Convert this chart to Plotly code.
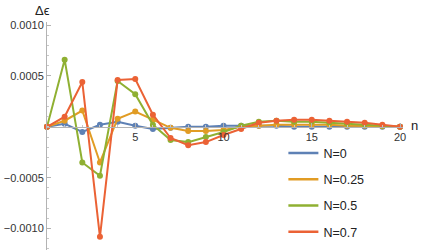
import plotly.graph_objects as go

n_vals = list(range(21))
series_names = ["N=0", "N=0.25", "N=0.5", "N=0.7"]
d_N0 = [0, 0.00003, -0.00005, 0.00002, 0.00005, 0.00001, -0.00002, -0.00001, 0, 0, 0.00001,
        0.00001, 0.00001, 0.00001, 0, 0, 0, 0, 0, 0, 0]
d_N025 = [0, 0.00006, 0.00016, -0.00035, 0.00008, 0.00015, 0.00007, -0.00001, -0.00004, -0.00004, -0.00003,
          0, 0.00001, 0.00002, 0.00002, 0.00002, 0.00002, 0.00001, 0.00001, 0.000005, 0]
d_N05 = [0, 0.00066, -0.00035, -0.00048, 0.00045, 0.00032, 0.00002, -0.00013, -0.00015, -0.0001, -0.00005,
         0.00001, 0.00005, 0.00006, 0.00005, 0.00005, 0.00004, 0.00003, 0.00002, 0.00001, 0]
d_N07 = [0, 0.0001, 0.00044, -0.00108, 0.00046, 0.00047, 0.00012, -0.00011, -0.00018, -0.00015, -0.00008,
         -0.00002, 0.00004, 0.00006, 0.00007, 0.00007, 0.00006, 0.00005, 0.00004, 0.00002, 0]
colors = ["#5E81B5", "#E19C24", "#8FB032", "#EB6235"]

y_tick_vals = [0.001, 0.0005, -0.0005, -0.001]
y_tick_text = ["0.0010", "0.0005", "\u22120.0005", "\u22120.0010"]
x_tick_vals = [5, 10, 15, 20]
x_tick_text = ["5", "10", "15", "20"]

FONT = "Liberation Sans"
fig = go.Figure()
for i, (name, ys) in enumerate(zip(series_names, [d_N0, d_N025, d_N05, d_N07])):
    fig.add_trace(go.Scatter(
        x=n_vals, y=ys, name=name, mode="lines+markers",
        line=dict(color=colors[i], width=2),
        marker=dict(color=colors[i], size=6),
        cliponaxis=False, legendgroup=name, showlegend=False,
    ))
    # legend entry shows a plain line, as in the reference
    fig.add_trace(go.Scatter(
        x=[None], y=[None], name=name, mode="lines",
        line=dict(color=colors[i], width=2.5),
        legendgroup=name, showlegend=True,
    ))

yr = [-0.00121, 0.00103]
xpos = (0 - yr[0]) / (yr[1] - yr[0])

fig.update_layout(
    width=425, height=252,
    margin=dict(l=47, r=22, t=22, b=2, autoexpand=False),
    paper_bgcolor="white", plot_bgcolor="white",
    font=dict(family=FONT, size=11, color="#333333"),
    showlegend=True,
    legend=dict(x=0.664, xref="paper", y=0.49, yref="paper", yanchor="top",
                font=dict(size=12.5, color="#222222"),
                bgcolor="rgba(0,0,0,0)", tracegroupgap=7, itemwidth=30),
    xaxis=dict(range=[0, 20.17], anchor="free", position=xpos, showline=True, linecolor="#b3b3b3",
               linewidth=1, showgrid=False, zeroline=False, automargin=False,
               tickvals=x_tick_vals, ticktext=x_tick_text, ticks="inside", ticklen=4,
               tickcolor="#b3b3b3", tickfont=dict(size=11, color="#333333"),
               minor=dict(dtick=1, ticks="inside", ticklen=2, tickcolor="#c8c8c8", showgrid=False)),
    yaxis=dict(range=yr, showline=True, linecolor="#b3b3b3", linewidth=1, showgrid=False,
               zeroline=False, automargin=False, tickvals=y_tick_vals, ticktext=y_tick_text,
               ticks="inside", ticklen=4, tickcolor="#b3b3b3", tickfont=dict(size=11, color="#333333"),
               minor=dict(dtick=0.0001, tick0=0, ticks="inside", ticklen=2, tickcolor="#c8c8c8", showgrid=False)),
    annotations=[
        dict(text="\u0394\u03f5", xref="paper", yref="paper", x=0, y=1, xanchor="center", yanchor="bottom",
             xshift=-5, yshift=2, showarrow=False, font=dict(size=13, color="#222222")),
        dict(text="n", xref="paper", yref="paper", x=1, y=xpos, xanchor="left", yanchor="middle",
             xshift=6, yshift=1, showarrow=False, font=dict(size=13, color="#222222")),
    ],
)
fig.write_html("out.html", config={"displayModeBar": False},
               post_script="document.body.style.margin='0';")
